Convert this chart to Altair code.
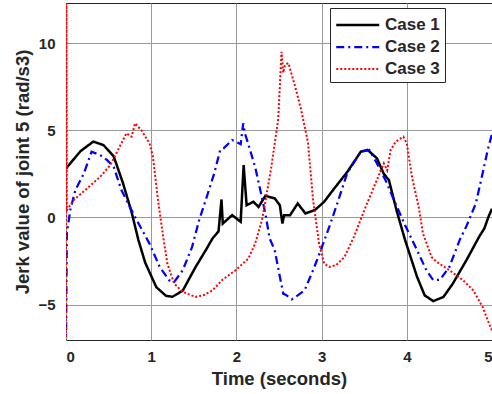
import altair as alt
import pandas as pd

series_names = ["Case 1", "Case 2", "Case 3"]

t1 = [0, 0.05, 0.17, 0.32, 0.44, 0.56, 0.67, 0.77, 0.85, 0.93, 1.06, 1.175, 1.25, 1.37, 1.52, 1.65, 1.72, 1.79,
      1.825, 1.84, 1.95, 2.05, 2.085, 2.12, 2.2, 2.26, 2.34, 2.45, 2.51, 2.54, 2.56, 2.63, 2.72, 2.81, 2.92,
      3.03, 3.15, 3.3, 3.46, 3.54, 3.65, 3.73, 3.79, 3.88, 3.98, 4.12, 4.21, 4.31, 4.43, 4.54, 4.70, 4.85,
      4.91, 4.96, 5.0]
v1 = [2.8, 3.1, 3.8, 4.35, 4.15, 3.5, 1.95, 0.3, -1.3, -2.6, -4.0, -4.5, -4.55, -4.2, -2.85, -1.8, -1.2, -0.8,
      1.03, -0.35, 0.13, -0.25, 3.0, 0.7, 0.9, 0.6, 1.24, 1.09, 0.7, -0.35, 0.13, 0.13, 0.8, 0.23, 0.42,
      0.9, 1.67, 2.6, 3.77, 3.87, 3.39, 2.5, 2.14, 0.4, -1.3, -3.4, -4.47, -4.8, -4.56, -3.8, -2.45, -1.1,
      -0.63, 0.05, 0.5]

t2 = [0, 0.01, 0.05, 0.11, 0.21, 0.30, 0.40, 0.48, 0.56, 0.65, 0.75, 0.83, 0.98, 1.10, 1.21, 1.27, 1.37, 1.48,
      1.56, 1.64, 1.74, 1.81, 1.85, 1.95, 2.03, 2.05, 2.08, 2.10, 2.16, 2.22, 2.28, 2.34, 2.39, 2.45, 2.51,
      2.55, 2.59, 2.65, 2.72, 2.80, 2.90, 2.99, 3.09, 3.17, 3.30, 3.46, 3.56, 3.65, 3.75, 3.85, 3.98, 4.12,
      4.23, 4.31, 4.39, 4.50, 4.62, 4.70, 4.81, 4.89, 4.95, 5.0]
v2 = [-7.5, -0.9, 0.42, 1.57, 2.53, 3.77, 3.58, 3.3, 2.9, 1.57, 0.6, -0.15, -1.5, -2.84, -3.6, -3.7, -3.03, -1.69,
      -0.2, 1.0, 2.53, 3.87, 3.97, 4.44, 4.25, 4.2, 5.4, 4.83, 3.87, 2.9, 1.57, 0.23, -1.2, -1.88, -3.4,
      -4.37, -4.47, -4.7, -4.47, -4.18, -3.03, -1.88, -0.54, 0.6, 2.53, 3.77, 3.87, 3.1, 2.14, 1.0, -0.45, -1.88,
      -3.03, -3.6, -3.57, -2.84, -1.3, -0.5, 0.8, 2.53, 3.87, 4.8]

t3 = [0, 0.003, 0.01, 0.09, 0.25, 0.4, 0.52, 0.63, 0.71, 0.77, 0.81, 0.885, 0.98, 1.02, 1.08, 1.14, 1.19, 1.27,
      1.37, 1.52, 1.62, 1.72, 1.83, 1.99, 2.14, 2.22, 2.30, 2.34, 2.41, 2.49, 2.53, 2.55, 2.57, 2.61, 2.69,
      2.76, 2.84, 2.90, 2.97, 3.03, 3.09, 3.17, 3.27, 3.38, 3.50, 3.61, 3.73, 3.77, 3.81, 3.87, 3.96, 4.0,
      4.06, 4.14, 4.19, 4.29, 4.35, 4.5, 4.66, 4.78, 4.89, 4.95, 5.0]
v3 = [-8, 14, 0.42, 1.0, 1.67, 2.33, 3.0, 4.06, 4.83, 4.63, 5.4, 5.0, 4.25, 3.5, 1.0, -1.1, -2.65, -3.8,
      -4.27, -4.56, -4.45, -4.18, -3.6, -3.03, -2.36, -1.5, -0.15, 0.9, 2.9, 5.6, 9.5, 8.3, 8.75, 8.85, 7.5,
      6.17, 4.3, 1.0, -1.5, -2.65, -2.84, -2.74, -2.26, -1.1, 0.4, 1.7, 3.1, 2.7, 3.87, 4.35, 4.63, 4.25,
      2.33, 0.6, -0.92, -2.26, -2.55, -3.03, -3.6, -4.18, -5.14, -5.9, -6.5]

x_ticks = [0, 1, 2, 3, 4, 5]
y_ticks = [-5, 0, 5, 10]

rows = []
for name, ts, vs in zip(series_names, [t1, t2, t3], [v1, v2, v3]):
    for i, (t, v) in enumerate(zip(ts, vs)):
        rows.append({"series": name, "t": t, "v": v, "i": i})
df = pd.DataFrame(rows)

FONT = "Liberation Sans"
TXT = "#262626"

chart = alt.Chart(df).mark_line(clip=True).encode(
    x=alt.X("t:Q", scale=alt.Scale(domain=[0, 5], nice=False, zero=False),
            axis=alt.Axis(values=x_ticks, title="Time (seconds)", format="d", grid=True,
                          ticks=False, domain=False, labelPadding=9, titlePadding=5)),
    y=alt.Y("v:Q", scale=alt.Scale(domain=[-7.03, 12.3], nice=False, zero=False),
            axis=alt.Axis(values=y_ticks, title="Jerk value of joint 5 (rad/s3)", format="d", grid=True,
                          ticks=False, domain=False, labelPadding=11, titlePadding=5)),
    color=alt.Color("series:N", scale=alt.Scale(domain=series_names, range=["#000000", "#0000ff", "#ff0000"]),
                    legend=alt.Legend(title=None, orient="none", legendX=264, legendY=5,
                                      symbolType="M-1,0H3", symbolSize=462, symbolStrokeWidth=2.5,
                                      labelFont=FONT, labelFontSize=17, labelFontWeight="bold",
                                      labelColor=TXT, fillColor="white", strokeColor="#262626",
                                      padding=5, rowPadding=2, labelOffset=26)),
    strokeDash=alt.StrokeDash("series:N", scale=alt.Scale(domain=series_names,
                                                          range=[[1, 0], [8, 4, 2, 4], [2, 2]]),
                              legend=None),
    strokeWidth=alt.StrokeWidth("series:N", scale=alt.Scale(domain=series_names, range=[2.5, 2, 2.5]),
                                legend=None),
    order="i:Q",
).properties(
    width=426, height=337,
    background="white",
    autosize=alt.AutoSizeParams(type="none"),
    padding={"left": 66, "top": 3, "right": 0, "bottom": 54},
).configure_view(
    stroke="#262626", strokeWidth=1, fill="white"
).configure_axis(
    labelFont=FONT, labelFontSize=15, labelFontWeight="bold", labelColor=TXT,
    titleFont=FONT, titleFontSize=18.5, titleFontWeight="bold", titleColor=TXT,
    gridColor="#9a9a9a", gridWidth=1
)

chart.save("out.html", embed_options={"renderer": "svg", "actions": False})
